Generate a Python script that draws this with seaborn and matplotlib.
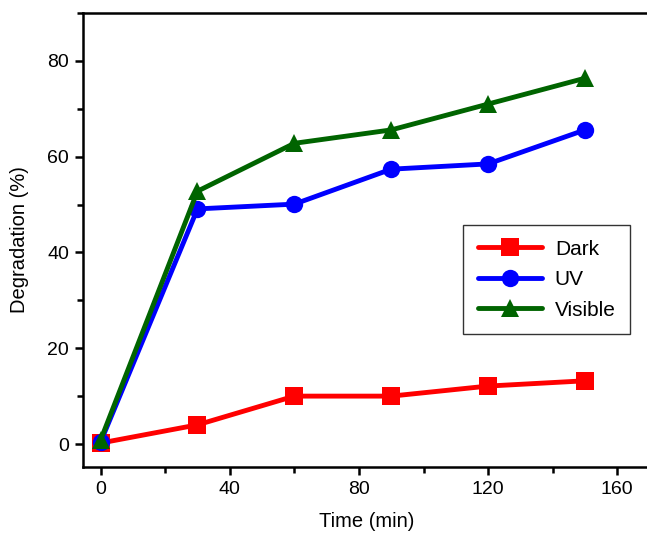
import matplotlib
matplotlib.use("Agg")
import matplotlib.pyplot as plt
from matplotlib.ticker import MultipleLocator
import seaborn as sns
import pandas as pd

time_min = [0, 30, 60, 90, 120, 150]
dark = [0.2, 4.0, 10.0, 10.0, 12.1, 13.2]
uv = [0.4, 49.1, 50.1, 57.4, 58.5, 65.6]
visible = [0.8, 52.8, 62.8, 65.6, 71.0, 76.4]
series_names = ["Dark", "UV", "Visible"]
colors = {"Dark": "#ff0000", "UV": "#0000ff", "Visible": "#006400"}
markers = {"Dark": "s", "UV": "o", "Visible": "^"}

df = pd.DataFrame({
    "Time": time_min * 3,
    "Degradation": dark + uv + visible,
    "Series": [s for s in series_names for _ in time_min],
})

sns.set_style("ticks")
plt.rcParams['font.family'] = ['Liberation Sans', 'DejaVu Sans']
plt.rcParams['text.color'] = 'black'
plt.rcParams['axes.labelcolor'] = 'black'

fig = plt.figure(figsize=(6.47, 5.34), dpi=100)
ax = fig.add_axes([0.128, 0.1255, 0.876, 0.850])

sns.lineplot(data=df, x="Time", y="Degradation", hue="Series", style="Series",
             palette=colors, markers=markers, dashes=False, linewidth=3.5,
             markersize=12.5, markeredgewidth=0, ax=ax)

ax.set_xlim(-5.5, 170)
ax.set_ylim(-4.8, 90)
ax.xaxis.set_major_locator(MultipleLocator(40))
ax.xaxis.set_minor_locator(MultipleLocator(20))
ax.yaxis.set_major_locator(MultipleLocator(20))
ax.yaxis.set_minor_locator(MultipleLocator(10))
ax.tick_params(which="major", direction="out", length=6, width=1.8, labelsize=14,
               colors="black", labelcolor="black", pad=4)
ax.tick_params(which="minor", direction="out", length=4, width=1.8, colors="black")
for sp in ax.spines.values():
    sp.set_linewidth(1.8)
    sp.set_color("black")
ax.set_xlabel("Time (min)", fontsize=14.5, labelpad=10, color="black")
ax.set_ylabel("Degradation (%)", fontsize=14.5, labelpad=13, color="black")

leg = ax.legend(loc="upper left", bbox_to_anchor=(0.671, 0.533), fontsize=15,
                frameon=True, fancybox=False, edgecolor="black", handlelength=3.1,
                borderpad=0.7, labelspacing=0.55, handletextpad=0.6,
                borderaxespad=0)
leg.get_frame().set_linewidth(1.0)
for t in leg.get_texts():
    t.set_color("black")

fig.savefig("out.png", dpi=100)
